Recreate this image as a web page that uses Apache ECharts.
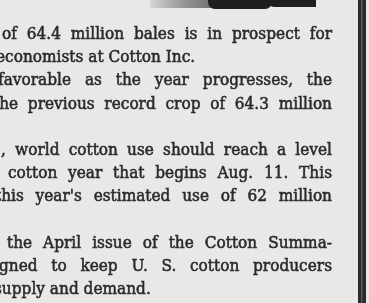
<!DOCTYPE html>
<html lang="en">
<head>
    <meta charset="UTF-8">
    <title>Cotton clipping</title>
    <script src="https://cdn.jsdelivr.net/npm/echarts@6.0.0/dist/echarts.min.js"></script>
    <style>
        html, body { margin: 0; padding: 0; background: #e8e8e6; }
        #main { width: 369px; height: 303px; }
    </style>
</head>
<body>
    <div id="main"></div>
</body>
</html>

<script type="text/javascript">
    // lines of the clipping, top to bottom ('' = paragraph gap)
    const lines = [
        'of 64.4 million bales is in prospect for',
        'economists at Cotton Inc.',
        'favorable as the year progresses, the',
        'the previous record crop of 64.3 million',
        '',
        ', world cotton use should reach a level',
        'cotton year that begins Aug. 11. This',
        "this year's estimated use of 62 million",
        '',
        'the April issue of the Cotton Summa-',
        'gned to keep U. S. cotton producers',
        'supply and demand.'
    ]
    // last line of a paragraph is not stretched
    const justified = [true, false, true, true, false, true, true, true, false, true, true, false]

    // layout
    const lineStart = [2, -4, -2, -7, 0, 1, 8, -5, 0, 7, -1, -6]
    const rightEdge = 332
    const firstBaseline = 39
    const lineGap = 23.2
    const fontSize = 16.5
    const squeeze = 0.93
    const font = fontSize + 'px "DejaVu Serif"'
    const ink = '#2a2a2a'

    var chartDom = document.getElementById('main')
    var myChart = echarts.init(chartDom, null, { renderer: 'canvas' })

    var ctx = document.createElement('canvas').getContext('2d')
    ctx.font = font

    var elements = []

    lines.forEach(function (line, i) {
        if (!line) return
        var y = firstBaseline + i * lineGap + 4
        var words = line.split(' ')
        var widths = words.map(w => ctx.measureText(w).width * squeeze)
        var space = ctx.measureText(' ').width * squeeze
        if (justified[i] && words.length > 1) {
            var total = widths.reduce((a, b) => a + b, 0)
            space = (rightEdge - lineStart[i] - total) / (words.length - 1)
        }
        var x = lineStart[i]
        words.forEach(function (w, k) {
            elements.push({
                type: 'text',
                x: x,
                y: y,
                scaleX: squeeze,
                style: {
                    text: w,
                    font: font,
                    fill: ink,
                    stroke: ink,
                    lineWidth: 0.55,
                    verticalAlign: 'bottom',
                    lineHeight: fontSize,
                    shadowBlur: 1,
                    shadowColor: 'rgba(40,40,40,0.5)'
                }
            })
            x += widths[k] + space
        })
    })

    // picture remnant at the top
    elements.push({
        type: 'rect',
        shape: { x: 150, y: 0, width: 62, height: 8 },
        style: {
            fill: new echarts.graphic.LinearGradient(0, 0, 1, 0, [
                { offset: 0, color: '#d6d6d6' },
                { offset: 0.5, color: '#9a9a9a' },
                { offset: 1, color: '#707070' }
            ])
        }
    })
    elements.push({
        type: 'rect',
        shape: { x: 208, y: -6, width: 64, height: 15, r: 7 },
        style: { fill: '#1e1e1e' }
    })
    elements.push({
        type: 'rect',
        shape: { x: 268, y: -6, width: 48, height: 13, r: [0, 0, 0, 6] },
        style: { fill: '#1e1e1e' }
    })

    // column rule on the right
    elements.push({
        type: 'rect',
        shape: { x: 358, y: 0, width: 8, height: 303 },
        style: { fill: '#2b2b2b' }
    })
    elements.push({
        type: 'rect',
        shape: { x: 361, y: 0, width: 1.5, height: 303 },
        style: { fill: '#5a5a5a' }
    })

    var option = {
        backgroundColor: '#e8e8e6',
        graphic: { elements: elements }
    }

    option && myChart.setOption(option)
</script>
